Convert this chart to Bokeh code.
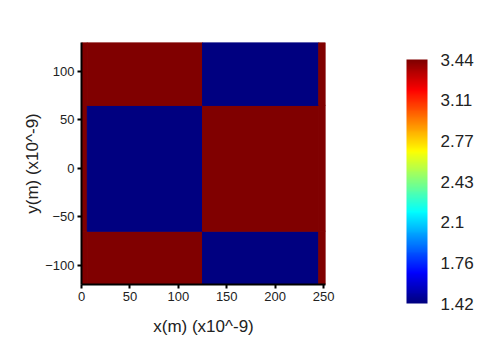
from bokeh.plotting import figure
from bokeh.models import (ColumnDataSource, LinearColorMapper, ColorBar, FixedTicker,
                          Range1d)
from bokeh.embed import file_html
from bokeh.resources import INLINE

# ---- data -------------------------------------------------------------
# cell edges of the field (x and y in 1e-9 m)
x_edges = [0, 6, 125, 245, 252]
y_edges = [-120, -65, 65, 130]
# cell values, rows from bottom to top
row_bottom = [3.44, 3.44, 1.42, 3.44]
row_middle = [3.44, 1.42, 3.44, 3.44]
row_top = [3.44, 3.44, 1.42, 3.44]
field_rows = [row_bottom, row_middle, row_top]

x_ticks = [0, 50, 100, 150, 200, 250]
y_ticks = [-100, -50, 0, 50, 100]
cbar_min, cbar_max = 1.42, 3.44
cbar_labels = ["1.42", "1.76", "2.1", "2.43", "2.77", "3.11", "3.44"]

# ---- jet palette -------------------------------------------------------
def jet(n=256):
    cols = []
    for i in range(n):
        t = i / (n - 1)
        r = min(max(1.5 - abs(4 * t - 3), 0), 1)
        g = min(max(1.5 - abs(4 * t - 2), 0), 1)
        b = min(max(1.5 - abs(4 * t - 1), 0), 1)
        cols.append("#%02x%02x%02x" % (int(round(r * 255)), int(round(g * 255)), int(round(b * 255))))
    return cols

palette = jet()

left, right, bottom, top, val = [], [], [], [], []
for j, row in enumerate(field_rows):
    for i, v in enumerate(row):
        left.append(x_edges[i]); right.append(x_edges[i + 1])
        bottom.append(y_edges[j]); top.append(y_edges[j + 1])
        val.append(v)
src = ColumnDataSource(dict(left=left, right=right, bottom=bottom, top=top, val=val))

mapper = LinearColorMapper(palette=palette, low=cbar_min, high=cbar_max)

FONT = "Liberation Sans"

p = figure(width=492, height=339, output_backend="svg", toolbar_location=None,
           x_range=Range1d(x_edges[0], x_edges[-1]), y_range=Range1d(y_edges[0], y_edges[-1]),
           min_border_left=81, min_border_right=167, min_border_top=42, min_border_bottom=55)
p.outline_line_color = None
p.xgrid.visible = False
p.ygrid.visible = False
p.background_fill_color = "white"
p.border_fill_color = "white"

p.quad(left="left", right="right", bottom="bottom", top="top", source=src,
       fill_color={"field": "val", "transform": mapper},
       line_color={"field": "val", "transform": mapper}, line_width=1)

for ax, ticks in ((p.xaxis[0], x_ticks), (p.yaxis[0], y_ticks)):
    ax.ticker = FixedTicker(ticks=ticks)
    ax.minor_tick_line_color = None
    ax.axis_line_color = "black"
    ax.axis_line_width = 2
    ax.major_tick_line_color = "black"
    ax.major_tick_line_width = 2
    ax.major_tick_out = 4
    ax.major_tick_in = 0
    ax.major_label_text_font = FONT
    ax.major_label_text_font_size = "13px"
    ax.major_label_text_color = "#222222"
    ax.axis_label_text_font = FONT
    ax.axis_label_text_font_size = "17px"
    ax.axis_label_text_font_style = "normal"
    ax.axis_label_text_color = "#222222"
    ax.major_label_standoff = 3

p.xaxis.axis_label = "x(m) (x10^-9)"
p.yaxis.axis_label = "y(m) (x10^-9)"
p.xaxis.axis_label_standoff = 13
p.yaxis.axis_label_standoff = 0

step = (cbar_max - cbar_min) / (len(cbar_labels) - 1)
cticks = [cbar_min + k * step for k in range(len(cbar_labels))]
cb = ColorBar(color_mapper=mapper, ticker=FixedTicker(ticks=cticks),
              major_label_overrides={t: s for t, s in zip(cticks, cbar_labels)},
              width=21, height=244, location=(325, -19), padding=0, margin=0,
              bar_line_color=None, major_tick_line_color=None, minor_tick_line_color=None,
              major_label_text_font=FONT, major_label_text_font_size="17px",
              major_label_text_color="#222222", label_standoff=13,
              background_fill_color=None, border_line_color=None)
p.add_layout(cb, "center")

open("out.html", "w").write(file_html(p, INLINE))
